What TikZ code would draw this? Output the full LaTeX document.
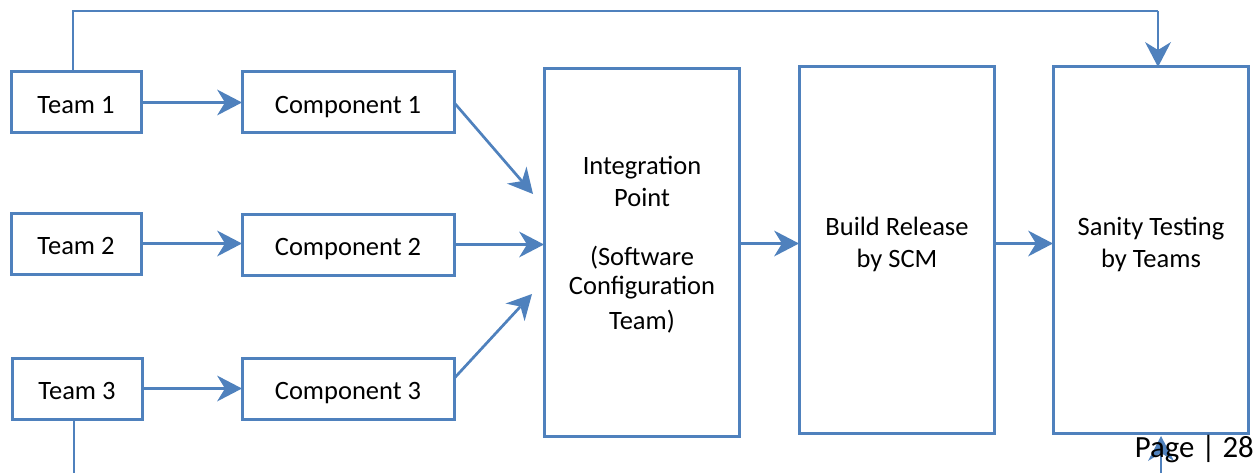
\documentclass[tikz,border=0pt]{standalone}
\usepackage{fontspec}
\setmainfont{Carlito}
\usetikzlibrary{arrows.meta}
\definecolor{boxblue}{RGB}{79,129,189}
\tikzset{
	BoxStyle/.style = {draw=boxblue, line width=3pt, align=center, font=\fontsize{26.5}{29}\selectfont, text=black, anchor=north west, inner sep=0pt, outer sep=0pt, text height=21.5pt, text depth=0pt},
	LabelStyle/.style = {font=\fontsize{26.5}{29}\selectfont, align=center, text=black},
	ArrowStyle/.style = {draw=boxblue, line width=2.7pt, -{Stealth[length=25pt,width=26pt,inset=8pt,line width=0pt]}},
	ThinStyle/.style = {draw=boxblue, line width=1.8pt}
}
\begin{document}
\begin{tikzpicture}[x=1pt,y=-1pt]
	\useasboundingbox (0,0) rectangle (1257,473);
	% left column
	\node[BoxStyle, minimum width=130pt, minimum height=61pt] (team1) at (11,72) {Team 1};
	\node[BoxStyle, minimum width=130pt, minimum height=61pt] (team2) at (11,213) {Team 2};
	\node[BoxStyle, minimum width=130pt, minimum height=61pt] (team3) at (12,358) {Team 3};
	\node[BoxStyle, minimum width=212pt, minimum height=61pt] (comp1) at (242,72) {Component 1};
	\node[BoxStyle, minimum width=212pt, minimum height=61pt] (comp2) at (242,214) {Component 2};
	\node[BoxStyle, minimum width=212pt, minimum height=61pt] (comp3) at (242,358) {Component 3};
	% big boxes
	\node[BoxStyle, minimum width=195pt, minimum height=367pt] (integ) at (544,69) {};
	\node[BoxStyle, minimum width=195pt, minimum height=366pt] (build) at (799,67) {};
	\node[BoxStyle, minimum width=195pt, minimum height=366pt] (sanity) at (1053,67) {};
	\node[LabelStyle] (integtext) at (642,245) {Integration\\[3pt]Point\\[30pt](Software\\Configuration\\[6pt]Team)};
	\node[LabelStyle] (buildtext) at (897,244) {Build Release\\[3pt]by SCM};
	\node[LabelStyle] (sanitytext) at (1151,244) {Sanity Testing\\[3pt]by Teams};
	% free ends
	\coordinate (top1) at (73,11);
	\coordinate (top2) at (1158,11);
	\coordinate (bot1) at (74,473);
	\coordinate (bot2) at (1161,473);
	\coordinate (bot3) at (1161,436);
	\coordinate (diag1) at (533,194);
	\coordinate (diag3) at (532,294);
	% connectors
	\draw[ArrowStyle] (team1) -- (comp1);
	\draw[ArrowStyle] (team2) -- (comp2.west |- team2);
	\draw[ArrowStyle] (team3) -- (comp3);
	\draw[ArrowStyle] (comp1.east) -- (diag1);
	\draw[ArrowStyle] (comp2.east) -- (integ.west |- comp2.east);
	\draw[ArrowStyle] ([yshift=10pt]comp3.east) -- (diag3);
	\draw[ArrowStyle] (integ.east |- team2) -- (build.west |- team2);
	\draw[ArrowStyle] (build.east |- team2) -- (sanity.west |- team2);
	\draw[ThinStyle] (team1.north -| top1) -- (top1) -- (top2);
	\draw[ArrowStyle, line width=1.8pt] (top2) -- (sanity.north -| top2);
	\draw[ThinStyle] (team3.south -| bot1) -- (bot1);
	\draw[ArrowStyle, line width=1.8pt] (bot2) -- (bot3);
	\node[font=\fontsize{30.8}{34}\selectfont, anchor=base east, inner sep=0pt] (page) at (1254,457) {Page | 28};
\end{tikzpicture}
\end{document}
